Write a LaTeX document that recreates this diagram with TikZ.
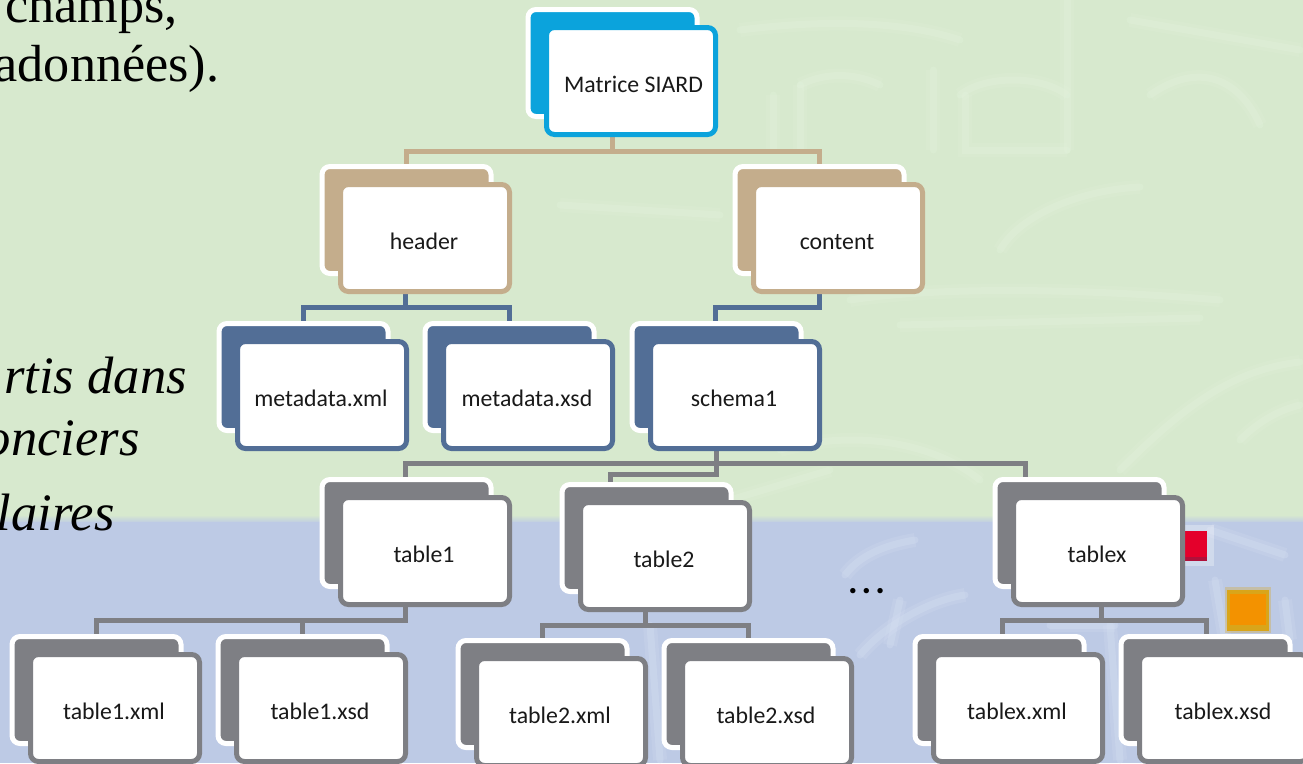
\documentclass[tikz,border=0pt]{standalone}
\usepackage{fontspec}
\setmainfont{Carlito}
\newfontfamily\slidefont{Liberation Serif}
\usetikzlibrary{calc}
\definecolor{gbg}{HTML}{D7E9CE}
\definecolor{gpale}{HTML}{E4F3DE}
\definecolor{bbg}{HTML}{BDCAE5}
\definecolor{bpale}{HTML}{D6E0F2}
\definecolor{cblue}{HTML}{0BA3DC}
\definecolor{ctan}{HTML}{C4AD8C}
\definecolor{cnavy}{HTML}{526E96}
\definecolor{cgray}{HTML}{7E7F84}
\definecolor{mred}{HTML}{E4002B}
\definecolor{mdred}{HTML}{B0103A}
\definecolor{morange}{HTML}{F39200}
\definecolor{molive}{HTML}{D9A51A}
\pgfdeclarelayer{bgl}
\pgfdeclarelayer{edges}
\pgfsetlayers{bgl,edges,main}
\tikzset{
  backcard/.style={rounded corners=8pt,minimum width=169pt,minimum height=107pt,inner sep=0pt,outer sep=0pt,draw=white,line width=5pt},
  frontcard/.style={rounded corners=8pt,minimum width=169pt,minimum height=107pt,inner sep=0pt,outer sep=0pt,fill=white,line width=5pt,
    font=\fontsize{23.8}{25}\selectfont,text=black!90,text height=23pt,text depth=0pt},
  link/.style={line width=5pt,line join=miter},
  slidetext/.style={font=\fontsize{52.2}{54}\slidefont,text=black,inner sep=0pt,anchor=base east},
  slideital/.style={slidetext,font=\fontsize{52.6}{54}\slidefont\itshape},
  wm/.style={line cap=round,gpale,line width=7pt,opacity=.3,
    preaction={draw,gpale,line width=14pt,opacity=.18}},
  wmb/.style={line cap=round,bpale,line width=7pt,opacity=.35,
    preaction={draw,bpale,line width=14pt,opacity=.2}}
}
% name, centre x, centre y, colour, label
\newcommand{\cardpair}[5]{%
  \node[backcard,fill=#4] (#1b) at (#2-18.5,#3-18) {};
  \node[frontcard,draw=#4] (#1) at (#2,#3) {\hspace*{-2pt}#5};
}
\newcommand{\linkto}[5][0]{%
  \draw[link,#5] ([xshift=#1 pt]#2.south) -- ([xshift=#1 pt]#2.south |- 0,#4) -| (#3);
}
\begin{document}
\begin{tikzpicture}[x=1pt,y=-1pt]
\useasboundingbox (0,0) rectangle (1303,763);
\clip (0,0) rectangle (1303,763);
\begin{pgfonlayer}{bgl}
  \fill[gbg] (0,0) rectangle (1303,517);
  \shade[top color=gbg,bottom color=bbg] (0,515) rectangle (1303,523);
  \fill[bbg] (0,522) rectangle (1303,763);
  % faint watermark, green part
  \draw[wm] (773,95) -- (773,150);
  \draw[wm] (800,85) -- (800,150);
  \draw[wm] (800,85) .. controls (830,70) and (860,75) .. (880,85);
  \draw[wm] (933,70) -- (933,150);
  \draw[wm] (960,95) .. controls (985,75) and (1040,75) .. (1067,95);
  \draw[wm] (965,95) -- (965,150) -- (1067,150);
  \draw[wm] (1067,0) -- (1067,150);
  \draw[wm] (1150,95) .. controls (1200,60) and (1240,80) .. (1260,125);
  \draw[wm] (740,30) .. controls (820,20) and (900,20) .. (960,40);
  \draw[wm] (1130,20) -- (1300,50);
  \draw[wm] (1140,187) .. controls (1080,190) and (1020,215) .. (1000,250);
  \draw[wm] (850,300) .. controls (950,285) and (1100,290) .. (1220,300);
  \draw[wm] (900,325) -- (1200,318);
  \draw[wm] (1300,362) .. controls (1230,370) and (1180,410) .. (1120,470);
  \draw[wm] (1240,440) .. controls (1260,420) and (1280,410) .. (1300,405);
  \draw[wm] (780,450) .. controls (850,430) and (930,440) .. (980,480);
  \draw[wm] (560,205) -- (720,215);
  \draw[wm] (730,500) -- (830,470);
  % faint watermark, blue part
  \draw[wmb] (845,575) .. controls (860,555) and (885,545) .. (915,540);
  \draw[wmb] (860,655) .. controls (885,625) and (930,600) .. (965,595);
  \draw[wmb] (890,645) -- (900,600);
  \draw[wmb] (650,625) -- (660,760);
  \draw[wmb] (1110,625) -- (1120,760);
  \draw[wmb] (1210,530) -- (1285,555);
  \draw[wmb] (1215,580) -- (1225,640);
  \draw[wmb] (1285,600) -- (1290,640);
  \draw[wmb] (1050,625) -- (1115,625);
  % coloured marks behind the cards
  \fill[white,opacity=.3] (1179,525) rectangle (1214,566);
  \fill[mdred] (1183,531) rectangle (1207,561);
  \fill[mred] (1183,531) rectangle (1207,557);
  \fill[molive,opacity=.3] (1225,587) rectangle (1271,633);
  \fill[molive] (1227,590) rectangle (1269,631);
  \fill[morange] (1230,594) rectangle (1266,625);
\end{pgfonlayer}

\node[slidetext] (t1) at (178,22) {champs,};
\node[slidetext] (t2) at (219.5,81) {adonnées).};
\node[slideital] (t3) at (187,393) {rtis dans};
\node[slideital] (t4) at (140,455) {onciers};
\node[slideital] (t5) at (115,530) {laires};

\cardpair{m}{631}{81}{cblue}{\hspace*{7pt}Matrice SIARD}
\cardpair{hd}{425}{238}{ctan}{header}
\cardpair{ct}{838}{238}{ctan}{content}
\cardpair{mx}{322}{395}{cnavy}{metadata.xml}
\cardpair{ms}{528}{395}{cnavy}{metadata.xsd}
\cardpair{sc}{735}{395}{cnavy}{schema1}
\cardpair{ta}{425}{551}{cgray}{table1}
\cardpair{tb}{665}{556}{cgray}{table2}
\cardpair{tx}{1098}{551}{cgray}{tablex}
\cardpair{tax}{115}{708}{cgray}{table1.xml}
\cardpair{tas}{321}{708}{cgray}{table1.xsd}
\cardpair{tbx}{561}{712}{cgray}{table2.xml}
\cardpair{tbs}{767}{712}{cgray}{table2.xsd}
\cardpair{txx}{1018}{708}{cgray}{tablex.xml}
\cardpair{txs}{1224}{708}{cgray}{tablex.xsd}

\node[font=\fontsize{36}{38}\selectfont\bfseries,inner sep=0pt,anchor=base] (dots) at (866.5,593) {.\hspace{4pt}.\hspace{4pt}.};

\begin{pgfonlayer}{edges}
  \linkto{mb}{hdb.north}{151}{ctan}
  \linkto{mb}{ctb.north}{151}{ctan}
  \linkto[-1]{hdb}{mxb.north}{307}{cnavy}
  \linkto[-1]{hdb}{msb.north}{307}{cnavy}
  \linkto{ctb}{[xshift=-1pt]scb.north}{307}{cnavy}
  \linkto{scb}{[xshift=-1pt]tab.north}{463.5}{cgray}
  \linkto{scb}{[xshift=-36pt]tbb.north}{474}{cgray}
  \linkto{scb}{[xshift=-54pt]txb.north}{463.5}{cgray}
  \linkto[-1]{tab}{taxb.north}{620}{cgray}
  \linkto[-1]{tab}{tasb.north}{620}{cgray}
  \linkto[-1]{tbb}{tbxb.north}{625}{cgray}
  \linkto[-1]{tbb}{tbsb.north}{625}{cgray}
  \linkto[22]{txb}{[xshift=3pt]txxb.north}{620}{cgray}
  \linkto[22]{txb}{[xshift=1pt]txsb.north}{620}{cgray}
\end{pgfonlayer}
\end{tikzpicture}
\end{document}
